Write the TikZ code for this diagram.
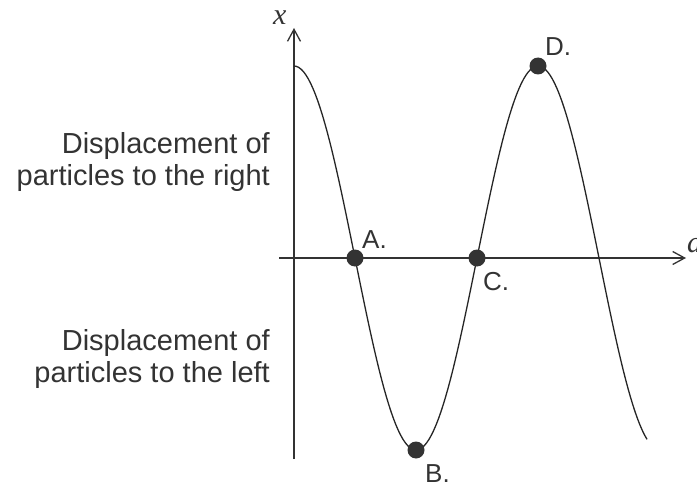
\documentclass[tikz,border=0pt]{standalone}
\usepackage{fontspec}
\setmainfont{Liberation Sans}
\newfontfamily\axisfont{Liberation Serif}
\usetikzlibrary{arrows.meta}
\definecolor{ink}{HTML}{333333}

\begin{document}
\begin{tikzpicture}[
  x=1pt, y=-1pt,
  axis/.style={draw=ink, line width=1.3pt, -{Straight Barb[length=12pt,width=13pt]}},
  wave/.style={draw=black!85, line width=1.3pt},
  dot/.style={circle, fill=ink, minimum size=17pt, inner sep=0pt},
  lbl/.style={text=ink, font=\fontsize{26}{30}\selectfont, inner sep=0pt, anchor=base west},
  side/.style={text=ink, font=\fontsize{29}{32}\selectfont, align=right, inner sep=0pt, anchor=base east},
  var/.style={text=ink, font=\axisfont\itshape\fontsize{30}{32}\selectfont, inner sep=0pt, anchor=base west}
]
\useasboundingbox (0,0) rectangle (697,487);
% axes
\coordinate (xstart) at (279,258);
\coordinate (xend) at (686,258);
\coordinate (ystart) at (294,459);
\coordinate (yend) at (294,28);
\draw[axis] (xstart) -- (xend);
\draw[axis] (ystart) -- (yend);
\node[var] (xlab) at (273,25) {x};
\node[var] (dlab) at (687,252) {d};
% wave
\draw[wave] plot[domain=294:647, samples=150] (\x, {258 - 192*cos(1.47541*(\x-294))});
% particles
\node[dot] (A) at (355,258) {};
\node[dot] (B) at (416,450) {};
\node[dot] (C) at (477,258) {};
\node[dot] (D) at (538,66) {};
\node[lbl] (Alab) at (362,248) {A.};
\node[lbl] (Blab) at (425,482) {B.};
\node[lbl] (Clab) at (483,290) {C.};
\node[lbl] (Dlab) at (545,56) {D.};
% side texts
\node[side] (rightlab) at (270,185) {Displacement of\\particles to the right};
\node[side] (leftlab) at (270,382) {Displacement of\\particles to the left};
\end{tikzpicture}
\end{document}
